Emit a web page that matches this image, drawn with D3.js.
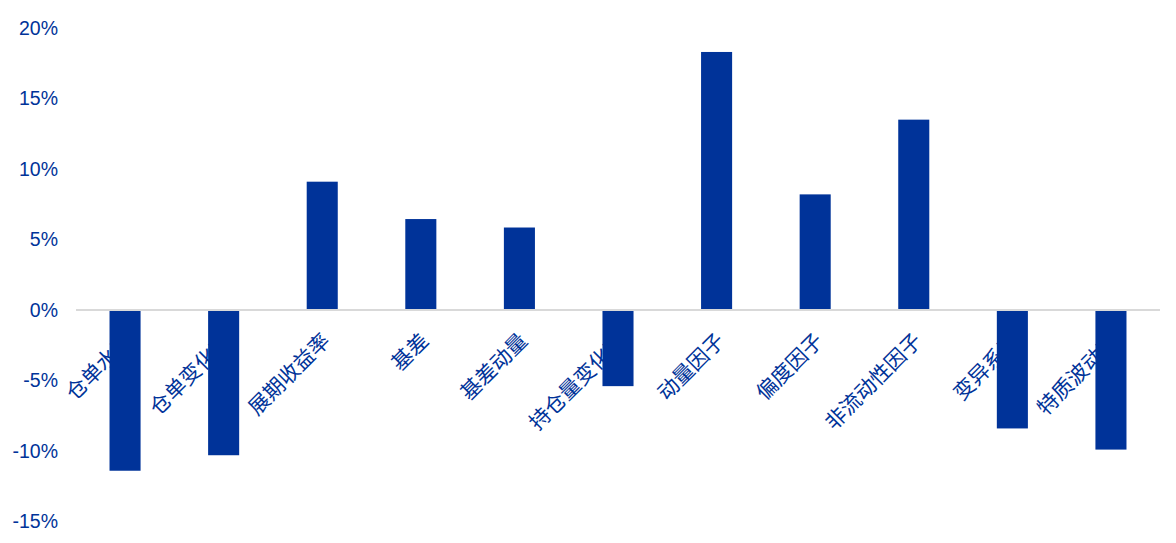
<!DOCTYPE html>
<html>
<head>
<meta charset="utf-8">
<script src="https://cdn.jsdelivr.net/npm/d3@7"></script>
<style>
  body { margin: 0; background: #fff; }
  svg text { font-family: "Liberation Sans", Arial, "Noto Sans CJK SC", sans-serif; }
</style>
</head>
<body>
<svg id="chart" width="1176" height="543"></svg>
<script>
// categories and values (percent)
var categories = ["仓单水平", "仓单变化率", "展期收益率", "基差", "基差动量", "持仓量变化率",
                  "动量因子", "偏度因子", "非流动性因子", "变异系数", "特质波动率"];
var values = [-11.4, -10.3, 9.1, 6.45, 5.85, -5.4, 18.3, 8.2, 13.5, -8.4, -9.9];
var yTicks = [-15, -10, -5, 0, 5, 10, 15, 20];

var blue = "#003399";

var svg = d3.select("#chart");

var x = d3.scaleBand()
    .domain(categories)
    .range([76, 1160])
    .paddingInner(0.685)
    .paddingOuter(0.34);

var y = d3.scaleLinear()
    .domain([-15, 20])
    .range([521.5, 28]);

// y tick labels
svg.append("g")
    .selectAll("text")
    .data(yTicks)
    .enter()
    .append("text")
    .attr("x", 58)
    .attr("y", function(d) { return y(d); })
    .attr("dy", "0.35em")
    .attr("text-anchor", "end")
    .attr("font-size", 19.5)
    .attr("fill", blue)
    .text(function(d) { return d + "%"; });

// zero line
svg.append("line")
    .attr("x1", 76)
    .attr("x2", 1160)
    .attr("y1", y(0))
    .attr("y2", y(0))
    .attr("stroke", "#d9d9d9")
    .attr("stroke-width", 2);

// category labels (drawn under the bars)
svg.append("g")
    .selectAll("text")
    .data(categories)
    .enter()
    .append("text")
    .attr("transform", function(d) {
        var cx = x(d) + x.bandwidth() / 2;
        return "translate(" + (cx + 4) + "," + (y(0) + 27) + ") rotate(-45)";
    })
    .attr("text-anchor", "end")
    .attr("dy", "0.35em")
    .attr("font-size", 21)
    .attr("fill", blue)
    .text(function(d) { return d; });

// bars
svg.append("g")
    .selectAll("rect")
    .data(values)
    .enter()
    .append("rect")
    .attr("x", function(d, i) { return x(categories[i]); })
    .attr("width", x.bandwidth())
    .attr("y", function(d) { return d >= 0 ? y(d) : y(0) + 1; })
    .attr("height", function(d) { return d >= 0 ? y(0) - 1 - y(d) : y(d) - y(0) - 1; })
    .attr("fill", blue);
</script>
</body>
</html>
